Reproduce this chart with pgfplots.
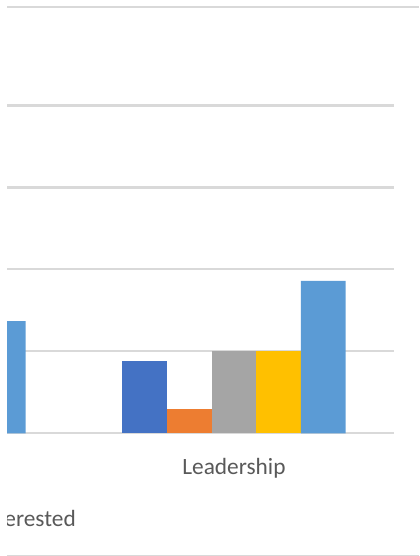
\documentclass[border=0pt]{standalone}
\usepackage{pgfplots}
\pgfplotsset{compat=1.18}
\usepackage{fontspec}
\setmainfont{Carlito}
\definecolor{gridc}{HTML}{D9D9D9}
\definecolor{txt}{HTML}{595959}
\definecolor{s1}{HTML}{4472C4}
\definecolor{s2}{HTML}{ED7D31}
\definecolor{s3}{HTML}{A5A5A5}
\definecolor{s4}{HTML}{FFC000}
\definecolor{s5}{HTML}{5B9BD5}
\begin{document}
\begin{tikzpicture}
\useasboundingbox (0,0) rectangle (314.25pt,-417pt);
% frame lines (top and bottom of the chart area)
\draw[gridc, line width=1.5pt] (5.25pt,-4.9pt) -- (314.25pt,-4.9pt);
\draw[gridc, line width=0.75pt] (5.25pt,-416.25pt) -- (314.25pt,-416.25pt);
\begin{axis}[
  at={(5.25pt,-324.975pt)}, anchor=south west,
  scale only axis, width=290.25pt, height=245.85pt,
  xmin=-0.709, xmax=0.5, ymin=0, ymax=4,
  ytick={0,1,2,3,4}, yticklabels={},
  ymajorgrids, grid style={gridc, line width=1.6pt},
  axis line style={draw=none}, tick style={draw=none},
  xtick={0}, xticklabels={Leadership},
  xticklabel style={font=\fontsize{17.5}{20}\selectfont, text=txt, anchor=base, yshift=-26.6pt},
  ybar=0pt, bar width=33.5pt,
  every axis plot/.append style={draw=none},
]
\addplot[fill=s1] coordinates {(0,0.88)};
\addplot[fill=s2] coordinates {(0,0.30)};
\addplot[fill=s3] coordinates {(0,1.0)};
\addplot[fill=s4] coordinates {(0,1.0)};
\addplot[fill=s5] coordinates {(-1,1.37) (0,1.86)};
\end{axis}
\begin{scope}
\clip (5.25pt,-370pt) rectangle (200pt,-410pt);
\node[anchor=base east, inner sep=0pt, text=txt, font=\fontsize{17.5}{20}\selectfont] at (57pt,-394.5pt) {Interested};
\end{scope}
\end{tikzpicture}
\end{document}
